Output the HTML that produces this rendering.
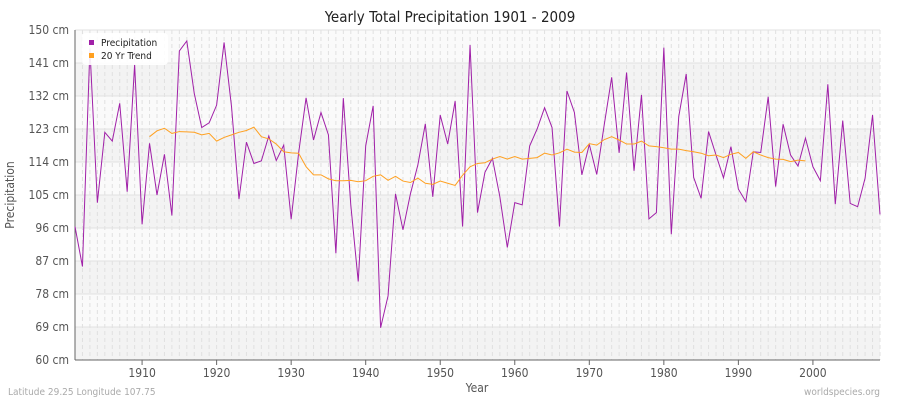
<!DOCTYPE html>
<html><head><meta charset="utf-8"><style>
body{margin:0;background:#fff;font-family:"DejaVu Sans Condensed","DejaVu Sans",sans-serif}
svg text{font-family:"DejaVu Sans Condensed","DejaVu Sans",sans-serif}
</style></head><body>
<svg id="c" width="900" height="400"></svg>
<script>
const years=[];for(let y=1901;y<=2009;y++)years.push(y);
const precip=[96.4,85.5,145,102.9,122.1,119.7,130,105.9,140.6,97,119.1,105,116.1,99.4,144.3,147,132.7,123.4,124.7,129.5,146.6,129.1,103.9,119.4,113.6,114.3,121.1,114.4,118.6,98.4,116.4,131.5,120,127.5,121.4,89.1,131.4,102.3,81.4,118.4,129.3,68.8,77.5,105.3,95.5,105.3,113.2,124.4,104.5,126.8,118.9,130.6,96.4,145.9,100.2,111.2,115,104.5,90.7,102.9,102.3,118.4,123,128.8,123.4,96.4,133.4,127.5,110.5,118.8,110.6,124.1,137.1,116.5,138.4,111.6,132.3,98.5,100.2,145.2,94.3,126.4,138,109.8,104.1,122.3,115.9,109.7,118.2,106.6,103.2,116.8,116.6,131.8,107.3,124.3,115.9,112.9,120.5,112.7,108.9,135.2,102.5,125.3,102.7,101.8,109.6,126.8,99.7];
const trendStart=1911;
const trend=[120.9,122.5,123.2,121.8,122.3,122.2,122.1,121.4,121.8,119.7,120.7,121.4,122.1,122.6,123.5,120.9,120.3,118.9,116.8,116.5,116.4,112.7,110.5,110.5,109.4,108.9,108.9,109,108.6,108.9,110.1,110.5,109,110.1,108.8,108.4,109.6,108.2,107.9,108.8,108.2,107.6,110.4,112.7,113.6,113.8,114.8,115.5,114.8,115.5,114.8,115,115.2,116.4,115.9,116.5,117.5,116.7,116.6,119,118.6,120.1,120.9,120,118.9,118.9,119.7,118.4,118.2,117.9,117.5,117.5,117.1,116.8,116.4,115.7,115.9,115.2,116.1,116.6,115,116.8,115.9,115.2,114.8,114.7,114.1,114.5,114.3];
const yTicks=[60,69,78,87,96,105,114,123,132,141,150];
const xTicks=[1910,1920,1930,1940,1950,1960,1970,1980,1990,2000];
const L=75,R=880,T=30,B=360;
const X=yr=>L+(yr-1901)*(R-L)/108;
const Y=v=>B-(v-60)*(B-T)/90;
const svg=document.getElementById('c'),NS='http://www.w3.org/2000/svg';
function mk(t,a,p){const e=document.createElementNS(NS,t);for(const k in a)e.setAttribute(k,a[k]);(p||svg).appendChild(e);return e;}
let e;
e=mk('rect',{x:L,y:T,width:R-L,height:B-T,fill:'#fafafa'});


for(let i=0;i<yTicks.length-1;i++){if(i%2===0){e=mk('rect',{x:L,y:Y(yTicks[i+1]),width:R-L,height:Y(yTicks[i])-Y(yTicks[i+1]),fill:'#f3f3f3'});

}}
years.forEach(yr=>{e=mk('line',{x1:X(yr),x2:X(yr),y1:T,y2:B,stroke:'#e0e0e0','stroke-dasharray':'4,3','stroke-width':1});

});
yTicks.forEach(v=>{e=mk('line',{x1:L,x2:R,y1:Y(v),y2:Y(v),stroke:'#e2e2e2'});


e=mk('text',{x:L-6,y:Y(v)+4,'text-anchor':'end','font-size':12,fill:'#555'});e.textContent=v+' cm';

});
xTicks.forEach(yr=>{e=mk('line',{x1:X(yr),x2:X(yr),y1:B,y2:B+5,stroke:'#666'});


e=mk('text',{x:X(yr),y:B+17,'text-anchor':'middle','font-size':12,fill:'#555'});e.textContent=yr;

});
e=mk('line',{x1:L,x2:L,y1:T,y2:B,stroke:'#666'});


e=mk('line',{x1:L,x2:R,y1:B,y2:B,stroke:'#666'});


e=mk('polyline',{points:precip.map((v,i)=>X(years[i])+','+Y(v)).join(' '),fill:'none',stroke:'#a020a8','stroke-width':1});


e=mk('polyline',{points:trend.map((v,i)=>X(trendStart+i)+','+Y(v)).join(' '),fill:'none',stroke:'#ffa020','stroke-width':1});


const lg=mk('g',{});


mk('rect',{x:82,y:33,width:86,height:32,rx:4,fill:'#fff',opacity:0.9},lg);
mk('rect',{x:89,y:40,width:5,height:5,fill:'#a020a8'},lg);
e=mk('text',{x:101,y:46,'font-size':10,fill:'#222'},lg);e.textContent='Precipitation';


mk('rect',{x:89,y:53,width:5,height:5,fill:'#ffa020'},lg);
e=mk('text',{x:101,y:59,'font-size':10,fill:'#222'},lg);e.textContent='20 Yr Trend';


e=mk('text',{x:450,y:22,'text-anchor':'middle','font-size':15,fill:'#222'});e.textContent='Yearly Total Precipitation 1901 - 2009';


e=mk('text',{x:477,y:392,'text-anchor':'middle','font-size':12,fill:'#555'});e.textContent='Year';


e=mk('text',{x:14,y:195,'text-anchor':'middle','font-size':12,fill:'#555',transform:'rotate(-90 14 195)'});e.textContent='Precipitation';


e=mk('text',{x:8,y:395,'font-size':10,fill:'#aaa'});e.textContent='Latitude 29.25 Longitude 107.75';


e=mk('text',{x:880,y:395,'text-anchor':'end','font-size':10,fill:'#aaa'});e.textContent='worldspecies.org';


</script>
</body></html>
